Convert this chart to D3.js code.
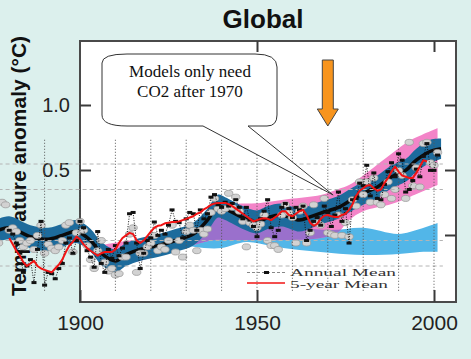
<!DOCTYPE html>
<html>
<head>
<meta charset="utf-8">
<script src="https://cdn.jsdelivr.net/npm/d3@7"></script>
<style>
  html, body { margin: 0; padding: 0; background: #dcf0ed; }
  svg { display: block; }
</style>
</head>
<body>
<div id="chart"></div>
<script>
// ---- data ----

// GISS style annual mean, 1880..2001
const annualStart = 1880;
const annualMean = [
  -0.12, -0.15, -0.22, -0.30, -0.45, -0.40, -0.35, -0.53, -0.27, -0.05,
  -0.55, -0.45, -0.46, -0.50, -0.42, -0.38, -0.22, -0.18, -0.30, -0.20,
  -0.05, -0.10, -0.28, -0.33, -0.41, -0.13, -0.38, -0.45, -0.27, -0.34,
  -0.24, -0.32, -0.26, -0.22, 0.01, 0.02, -0.22, -0.42, -0.30, -0.20,
  -0.18, -0.055, -0.16, -0.12, -0.15, -0.08, 0.04, -0.05, -0.06, -0.18,
  -0.03, 0.02, 0.01, -0.12, 0.04, -0.03, 0.01, 0.14, 0.16, 0.08,
  0.06, 0.10, 0.07, 0.09, 0.12, 0.06, -0.03, 0.06, -0.04, -0.09,
  -0.17, -0.03, 0.03, 0.12, -0.10, -0.17, -0.12, 0.06, 0.09, 0.05,
  -0.02, 0.06, 0.04, 0.07, -0.20, -0.12, -0.05, -0.02, -0.08, 0.07,
  0.02, -0.09, 0.00, 0.18, -0.05, 0.05, -0.22, 0.12, 0.13, 0.25,
  0.23, 0.39, 0.15, 0.33, 0.13, 0.12, 0.24, 0.34, 0.41, 0.30,
  0.48, 0.43, 0.18, 0.20, 0.27, 0.36, 0.30, 0.46, 0.56, 0.35,
  0.35, 0.47
];

// 5-year running mean, 1880..1998
const fiveStart = 1880;
const fiveYearMean = [
  -0.18, -0.23, -0.28, -0.32, -0.37, -0.40, -0.38, -0.36, -0.40, -0.42,
  -0.43, -0.44, -0.45, -0.42, -0.39, -0.35, -0.29, -0.24, -0.21, -0.17,
  -0.19, -0.23, -0.26, -0.28, -0.30, -0.32, -0.30, -0.29, -0.29, -0.29,
  -0.27, -0.22, -0.18, -0.16, -0.14, -0.15, -0.20, -0.22, -0.20, -0.165,
  -0.13, -0.10, -0.085, -0.08, -0.065, -0.06, -0.055, -0.055, -0.05, -0.04,
  -0.03, -0.02, -0.01, 0.01, 0.02, 0.045, 0.06, 0.08, 0.09, 0.095,
  0.095, 0.095, 0.085, 0.07, 0.05, 0.03, 0.01, -0.01, -0.03, -0.05,
  -0.04, -0.03, -0.025, -0.03, -0.04, -0.02, 0.0, 0.03, 0.03, 0.0,
  -0.01, 0.01, 0.03, 0.04, 0.0, -0.06, -0.085, -0.07, -0.03, -0.005,
  0.0, -0.01, -0.015, -0.015, 0.0, 0.01, 0.04, 0.085, 0.15, 0.19,
  0.21, 0.23, 0.235, 0.21, 0.19, 0.20, 0.25, 0.29, 0.34, 0.38,
  0.34, 0.31, 0.30, 0.29, 0.29, 0.33, 0.38, 0.43, 0.42
];

// observed annual values (grey circles), 1877..2001
const obsStart = 1877;
const obsAnnual = [
  -0.22, 0.10, 0.08, -0.12, -0.10, -0.13, -0.20, -0.25, -0.22, -0.20,
  -0.27, -0.16, -0.08, -0.30, -0.23, -0.26, -0.28, -0.25, -0.20, -0.08,
  -0.06, -0.29, -0.14, -0.05, -0.12, -0.24, -0.35, -0.42, -0.28, -0.20,
  -0.37, -0.44, -0.42, -0.47, -0.46, -0.33, -0.33, -0.15, -0.10, -0.45,
  -0.30, -0.30, -0.25, -0.22, -0.16, -0.28, -0.25, -0.27, -0.20, -0.08,
  -0.29, -0.20, -0.33, -0.13, -0.08, -0.12, -0.28, -0.12, -0.15, -0.11,
  0.02, 0.13, 0.05, 0.03, 0.05, 0.17, 0.06, 0.14, 0.03, -0.05,
  -0.25, -0.06, -0.08, -0.10, -0.07, 0.00, -0.20, -0.24, -0.24, -0.27,
  0.00, 0.08, 0.02, -0.02, -0.22, 0.03, 0.07, -0.22, -0.14, 0.08,
  -0.06, -0.08, 0.13, -0.14, -0.15, -0.16, 0.00, -0.16, -0.06, -0.17,
  0.12, 0.07, 0.26, 0.16, 0.26, 0.10, 0.29, 0.10, 0.08, 0.16,
  0.26, 0.13, 0.20, 0.35, 0.31, 0.13, 0.57, 0.23, 0.37, 0.22,
  0.56, 0.57, 0.41, 0.39, 0.49
];

// observed smoothed curve and its uncertainty band
const obsYears  = [1877, 1880, 1886, 1891, 1895, 1899, 1903, 1906, 1910, 1913, 1917, 1922, 1927, 1932, 1936, 1939, 1941, 1946, 1950, 1953, 1957, 1962, 1965, 1969, 1973, 1977, 1980, 1984, 1988, 1992, 1995, 1999, 2002];
const obsSmooth = [-0.12, -0.10, -0.17, -0.19, -0.16, -0.13, -0.20, -0.30, -0.36, -0.31, -0.27, -0.24, -0.20, -0.15, -0.04, 0.07, 0.05, -0.02, -0.055, -0.02, 0.0, -0.04, -0.015, 0.025, 0.06, 0.125, 0.17, 0.22, 0.30, 0.35, 0.43, 0.50, 0.52];
const obsLow    = [-0.21, -0.19, -0.26, -0.28, -0.25, -0.22, -0.29, -0.39, -0.45, -0.40, -0.36, -0.33, -0.29, -0.24, -0.13, -0.02, -0.04, -0.11, -0.145, -0.11, -0.09, -0.13, -0.105, -0.065, -0.03, 0.035, 0.08, 0.13, 0.21, 0.26, 0.34, 0.41, 0.44];
const obsHigh   = [-0.03, -0.01, -0.08, -0.10, -0.07, -0.04, -0.11, -0.21, -0.27, -0.22, -0.18, -0.15, -0.11, -0.06, 0.05, 0.16, 0.14, 0.07, 0.035, 0.07, 0.09, 0.05, 0.075, 0.115, 0.15, 0.215, 0.26, 0.31, 0.39, 0.44, 0.52, 0.59, 0.60];

// models, natural + anthropogenic forcing (pink)
const allYears = [1906, 1915, 1925, 1932, 1938, 1941, 1951, 1959, 1968, 1973, 1976, 1980, 1988, 1993, 2001];
const allHigh  = [-0.235, -0.196, -0.157, -0.10, 0.04, 0.08, 0.095, 0.125, 0.157, 0.204, 0.235, 0.31, 0.48, 0.58, 0.68];
const allLow   = [-0.37, -0.37, -0.29, -0.235, -0.196, -0.196, -0.196, -0.196, -0.18, -0.133, -0.04, 0.03, 0.086, 0.14, 0.235];

// models, natural forcing only (light blue)
const natYears = [1925, 1930, 1935, 1940, 1947, 1954, 1962, 1971, 1980, 1990, 1996, 2001];
const natHigh  = [-0.24, -0.196, -0.10, -0.008, -0.055, -0.078, -0.10, -0.118, -0.10, -0.149, -0.11, -0.063];
const natLow   = [-0.26, -0.243, -0.259, -0.259, -0.212, -0.243, -0.275, -0.298, -0.314, -0.306, -0.29, -0.29];

// axes
const xTickYears = [1900, 1950, 2000];
const yTickValues = [0.5, 1.0];
const gridYears = [1890, 1900, 1910, 1920, 1930, 1940, 1950, 1960, 1970, 1980, 1990, 2000];
const gridValues = [-0.4, -0.2, 0.2, 0.4];

// ---- drawing ----
const width = 471, height = 359;
const frame = { left: 80, top: 41, right: 456, bottom: 302 };
const sans = "'Liberation Sans', Arial, sans-serif";
const serif = "'Liberation Serif', 'Times New Roman', serif";

const x = d3.scaleLinear().domain([1900, 2000]).range([80, 434]);
const yFrame = d3.scaleLinear().domain([0.5, 1.0]).range([170, 105]);
// the pasted data panel has its own vertical scale
const y = d3.scaleLinear().domain([0, 0.2]).range([215, 189.5]);

const svg = d3.select("#chart").append("svg")
    .attr("width", width)
    .attr("height", height);

svg.append("rect")
    .attr("width", width)
    .attr("height", height)
    .attr("fill", "#dcf0ed");

// y label goes under the data
svg.append("text")
    .attr("transform", "translate(26,166) rotate(-90)")
    .attr("text-anchor", "middle")
    .attr("font-family", sans)
    .attr("font-weight", "bold")
    .attr("font-size", 21)
    .attr("fill", "#111")
    .text("Temperature anomaly (°C)");

svg.append("text")
    .attr("x", 263)
    .attr("y", 28)
    .attr("text-anchor", "middle")
    .attr("font-family", sans)
    .attr("font-weight", "bold")
    .attr("font-size", 26)
    .attr("fill", "#111")
    .text("Global");

svg.append("rect")
    .attr("x", frame.left)
    .attr("y", frame.top)
    .attr("width", frame.right - frame.left)
    .attr("height", frame.bottom - frame.top)
    .attr("fill", "#fff")
    .attr("stroke", "#4a4a4a")
    .attr("stroke-width", 2);

function styleAxis(g) {
    g.select(".domain").remove();
    g.selectAll("line").attr("stroke", "#3a3a3a").attr("stroke-width", 2);
    g.selectAll("text").attr("font-family", sans).attr("fill", "#222");
}

svg.append("g")
    .attr("transform", `translate(0,${frame.bottom})`)
    .call(d3.axisBottom(x).tickValues(xTickYears).tickFormat(d3.format("d"))
        .tickSizeInner(-12).tickSizeOuter(0).tickPadding(13))
    .call(styleAxis)
    .call(g => g.selectAll("text").attr("font-size", 21));

svg.append("g")
    .attr("transform", `translate(0,${frame.top})`)
    .call(d3.axisTop(x).tickValues([1950, 2000]).tickFormat("")
        .tickSizeInner(-11).tickSizeOuter(0))
    .call(styleAxis);

svg.append("g")
    .attr("transform", `translate(${frame.left},0)`)
    .call(d3.axisLeft(yFrame).tickValues(yTickValues).tickFormat(d3.format(".1f"))
        .tickSizeInner(-11).tickSizeOuter(0).tickPadding(10))
    .call(styleAxis)
    .call(g => g.selectAll("text").attr("font-size", 20));

svg.append("g")
    .attr("transform", `translate(${frame.right},0)`)
    .call(d3.axisRight(yFrame).tickValues([0, 0.5, 1.0]).tickFormat("")
        .tickSizeInner(-11).tickSizeOuter(0))
    .call(styleAxis);

// model bands
const band = d3.area()
    .x(d => x(d.year))
    .y0(d => y(d.low))
    .y1(d => y(d.high))
    .curve(d3.curveCatmullRom);

const allBand = allYears.map((yr, i) => ({ year: yr, low: allLow[i], high: allHigh[i] }));
const natBand = natYears.map((yr, i) => ({ year: yr, low: natLow[i], high: natHigh[i] }));
const obsBand = obsYears.map((yr, i) => ({ year: yr, low: obsLow[i], high: obsHigh[i], mid: obsSmooth[i] }));

svg.append("defs").append("clipPath")
    .attr("id", "allClip")
    .append("path")
    .attr("d", band(allBand));

svg.append("path").attr("d", band(natBand)).attr("fill", "#52b6e8");
svg.append("path").attr("d", band(allBand)).attr("fill", "#f384c8");
svg.append("path").attr("d", band(natBand)).attr("fill", "#9a70cc")
    .attr("clip-path", "url(#allClip)");

// observations
svg.append("path").attr("d", band(obsBand)).attr("fill", "#1d6b9c");

svg.append("path")
    .datum(obsBand)
    .attr("fill", "none")
    .attr("stroke", "#0b0b0b")
    .attr("stroke-width", 3.5)
    .attr("d", d3.line().x(d => x(d.year)).y(d => y(d.mid)).curve(d3.curveCatmullRom));

svg.append("g")
    .selectAll("ellipse")
    .data(obsAnnual)
    .join("ellipse")
    .attr("cx", (d, i) => x(obsStart + i))
    .attr("cy", d => y(d))
    .attr("rx", 4.2)
    .attr("ry", 3)
    .attr("fill", "#d2d2d2")
    .attr("stroke", "#9c9c9c")
    .attr("stroke-width", 0.8);

// grid of the pasted panel
svg.append("g")
    .selectAll("line")
    .data(gridValues)
    .join("line")
    .attr("x1", x(1877)).attr("x2", x(2002.5))
    .attr("y1", d => y(d)).attr("y2", d => y(d))
    .attr("stroke", "#b4b4b4")
    .attr("stroke-dasharray", "4,3");

svg.append("g")
    .selectAll("line")
    .data(gridYears)
    .join("line")
    .attr("x1", d => x(d)).attr("x2", d => x(d))
    .attr("y1", y(0.59)).attr("y2", y(-0.6))
    .attr("stroke", "#555")
    .attr("stroke-dasharray", "1,2");

// annual mean: dotted line with small bar markers
const annual = annualMean.map((v, i) => ({ year: annualStart + i, value: v }));

svg.append("path")
    .datum(annual)
    .attr("fill", "none")
    .attr("stroke", "#111")
    .attr("stroke-width", 1)
    .attr("stroke-dasharray", "1,1.5")
    .attr("d", d3.line().x(d => x(d.year)).y(d => y(d.value)));

svg.append("g")
    .selectAll("rect")
    .data(annual)
    .join("rect")
    .attr("x", d => x(d.year) - 2.5)
    .attr("y", d => y(d.value) - 1.5)
    .attr("width", 5)
    .attr("height", 3)
    .attr("fill", "#111");

// 5-year mean
const five = fiveYearMean.map((v, i) => ({ year: fiveStart + i, value: v }));

svg.append("path")
    .datum(five)
    .attr("fill", "none")
    .attr("stroke", "#f01414")
    .attr("stroke-width", 2)
    .attr("stroke-linejoin", "round")
    .attr("d", d3.line().x(d => x(d.year)).y(d => y(d.value)));

// legend
const legend = svg.append("g");
legend.append("line")
    .attr("x1", 247).attr("x2", 285).attr("y1", 272.5).attr("y2", 272.5)
    .attr("stroke", "#888").attr("stroke-dasharray", "3,2");
legend.append("rect")
    .attr("x", 264).attr("y", 271).attr("width", 5).attr("height", 3)
    .attr("fill", "#111");
legend.append("line")
    .attr("x1", 247).attr("x2", 285).attr("y1", 283).attr("y2", 283)
    .attr("stroke", "#f01414").attr("stroke-width", 1.5);
legend.append("text")
    .attr("x", 290).attr("y", 275.5)
    .attr("font-family", serif).attr("font-size", 10.5).attr("fill", "#333")
    .attr("textLength", 106).attr("lengthAdjust", "spacingAndGlyphs")
    .text("Annual Mean");
legend.append("text")
    .attr("x", 290).attr("y", 287.5)
    .attr("font-family", serif).attr("font-size", 10.5).attr("fill", "#333")
    .attr("textLength", 98).attr("lengthAdjust", "spacingAndGlyphs")
    .text("5-year Mean");

// callout
const tipX = x(1971.5), tipY = y(0.157);
svg.append("path")
    .attr("d", `M127,54 L255,54 Q277,54 277,67 L277,115 Q277,126 267,126 L248,126 L${tipX},${tipY} L203,126 L127,126 Q102,126 102,115 L102,63 Q102,54 127,54 Z`)
    .attr("fill", "#fff")
    .attr("stroke", "#333")
    .attr("stroke-width", 1);

svg.append("text")
    .attr("x", 190).attr("y", 77)
    .attr("text-anchor", "middle")
    .attr("font-family", serif).attr("font-size", 17).attr("fill", "#111")
    .text("Models only need");
svg.append("text")
    .attr("x", 190).attr("y", 97)
    .attr("text-anchor", "middle")
    .attr("font-family", serif).attr("font-size", 17).attr("fill", "#111")
    .text("CO2 after 1970");

// arrow at 1970
const ax = x(1970);
svg.append("path")
    .attr("d", `M${ax - 5.5},60 L${ax + 5.5},60 L${ax + 5.5},109 L${ax + 10.5},109 L${ax},126 L${ax - 10.5},109 L${ax - 5.5},109 Z`)
    .attr("fill", "#f7941d")
    .attr("stroke", "#444")
    .attr("stroke-width", 1);
</script>
</body>
</html>
